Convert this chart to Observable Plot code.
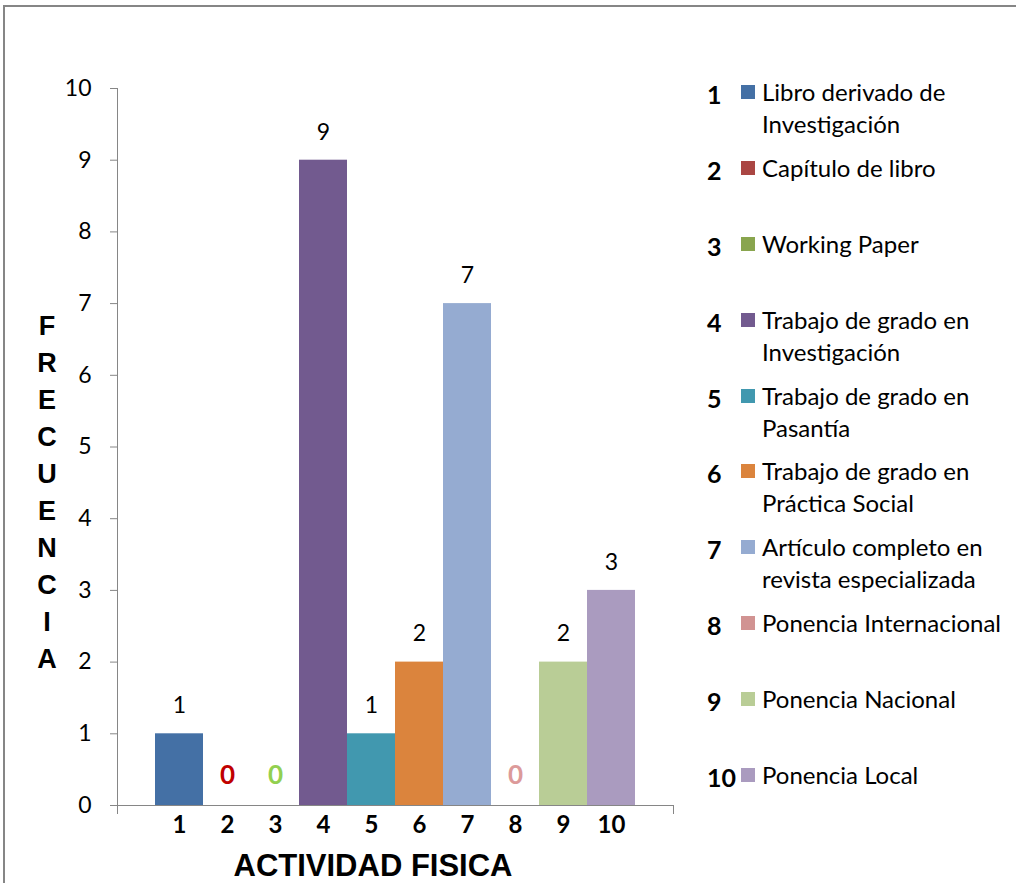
<!DOCTYPE html>
<html><head><meta charset="utf-8">
<script src="https://cdn.jsdelivr.net/npm/d3@7"></script>
<script src="https://cdn.jsdelivr.net/npm/@observablehq/plot@0.6"></script>
<style>
body{margin:0;background:#fff;}
#wrap{position:relative;width:1016px;height:883px;overflow:hidden;font-family:Lato,"Open Sans",sans-serif;background:#fff;}
#frame{position:absolute;left:3px;top:5px;width:1100px;height:1000px;border:2px solid #868686;box-sizing:border-box;}
#chart{position:absolute;left:0;top:0;}
#ylab{position:absolute;left:27px;top:308px;width:40px;text-align:center;font-family:"Liberation Sans",Arial,sans-serif;font-weight:bold;font-size:27px;line-height:37px;color:#000;}
#xlab{position:absolute;left:173px;width:400px;top:846px;text-align:center;font-family:"Liberation Sans",Arial,sans-serif;font-weight:bold;font-size:31px;line-height:40px;color:#000;}
#legend{position:absolute;left:707px;top:76px;}
.item{position:relative;height:75.9px;}
.num{position:absolute;left:0;top:2px;font-weight:bold;font-size:25px;line-height:32px;color:#000;}
.sw{position:absolute;left:34px;top:9px;width:14px;height:14px;}
.txt{position:absolute;left:55px;top:0;font-size:24px;line-height:32px;color:#000;white-space:nowrap;}
</style>
</head><body>
<div id="wrap">
  <div id="frame"></div>
  <div id="chart"></div>
  <div id="ylab"></div>
  <div id="xlab">ACTIVIDAD FISICA</div>
  <div id="legend"></div>
</div>
<script>
const categories = ["1","2","3","4","5","6","7","8","9","10"];
const names = [
  "Libro derivado de<br>Investigación",
  "Capítulo de libro",
  "Working Paper",
  "Trabajo de grado en<br>Investigación",
  "Trabajo de grado en<br>Pasantía",
  "Trabajo de grado en<br>Práctica Social",
  "Artículo completo en<br>revista especializada",
  "Ponencia Internacional",
  "Ponencia Nacional",
  "Ponencia Local"
];
const values = [1, 0, 0, 9, 1, 2, 7, 0, 2, 3];
const barColors = ["#4470A5","#AA4643","#89A54E","#725A8F","#4198AF","#DB843D","#95ABD1","#D19392","#B9CD96","#AA9BBF"];
const zeroLabelColors = ["#000","#C00000","#92D050","#000","#000","#000","#000","#DC9A9A","#000","#000"];
const yTicks = [0,1,2,3,4,5,6,7,8,9,10];
const yTitle = "FRECUENCIA";

const data = categories.map((c, i) => ({cat: c, value: values[i], labelColor: zeroLabelColors[i]}));
const nonZero = data.filter(d => d.value > 0);
const zeros = data.filter(d => d.value === 0);

const chart = Plot.plot({
  width: 700,
  height: 883,
  marginLeft: 117,
  marginRight: 27,
  marginTop: 88,
  marginBottom: 78,
  style: {fontFamily: "Lato, 'Open Sans', sans-serif", background: "transparent", color: "#000"},
  x: {domain: categories, padding: 0, insetLeft: 36, insetRight: 37, label: null},
  y: {domain: [0, 10], label: null},
  color: {domain: categories, range: barColors},
  marks: [
    Plot.barY(data, {x: "cat", y: "value", fill: "cat"}),
    Plot.text(nonZero, {x: "cat", y: "value", text: d => String(d.value), dy: -28, fontSize: 23, fill: "#000"}),
    Plot.text(zeros, {x: "cat", y: "value", text: d => String(d.value), dy: -30, fontSize: 26, fontWeight: "bold", fill: d => d.labelColor}),
    Plot.axisY({ticks: yTicks, tickSize: 7, tickPadding: 19, fontSize: 23, stroke: "#868686", fill: "#000", label: null}),
    Plot.axisX({tickSize: 0, tickPadding: 10, fontSize: 24, fontWeight: "bold", fill: "#000", label: null}),
    Plot.frame({anchor: "left", stroke: "#868686", insetBottom: -8}),
    Plot.frame({anchor: "right", stroke: "#868686", insetTop: 717, insetBottom: -8}),
    Plot.ruleY([0], {stroke: "#868686"})
  ]
});
document.getElementById("chart").appendChild(chart);

document.getElementById("ylab").innerHTML = yTitle.split("").map(ch => `<div>${ch}</div>`).join("");

const legend = document.getElementById("legend");
categories.forEach((c, i) => {
  const item = document.createElement("div");
  item.className = "item";
  item.innerHTML = `<span class="num">${c}</span><span class="sw" style="background:${barColors[i]}"></span><span class="txt">${names[i]}</span>`;
  legend.appendChild(item);
});
</script>
</body></html>
